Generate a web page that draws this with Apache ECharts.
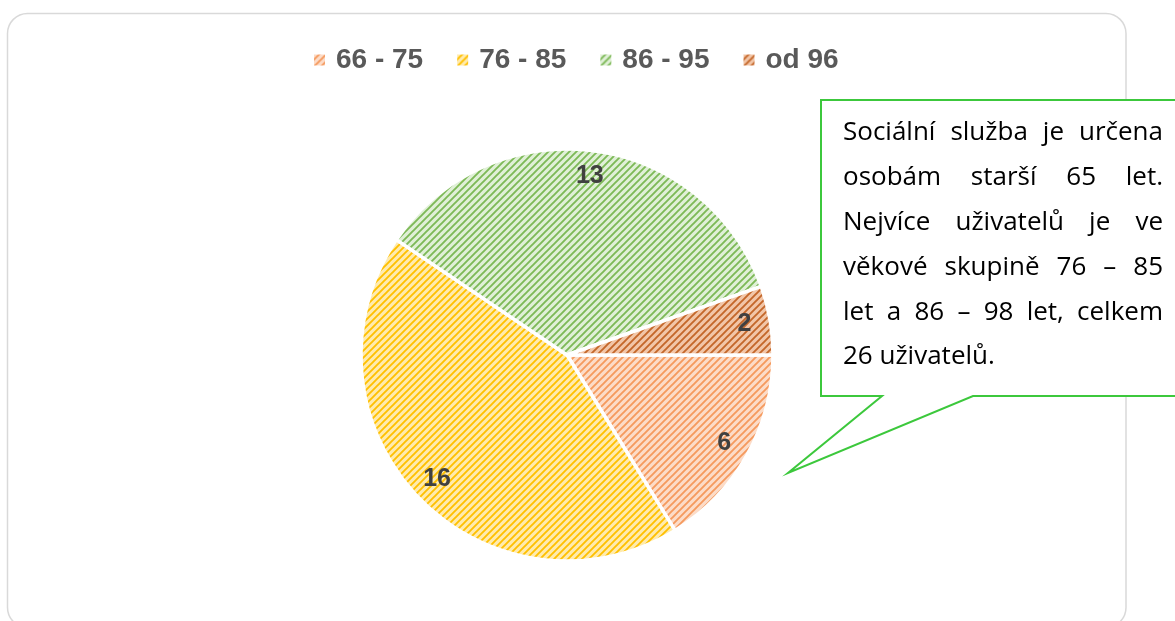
<!DOCTYPE html>
<html><head><meta charset="utf-8">
<script src="https://cdn.jsdelivr.net/npm/echarts@6/dist/echarts.min.js"></script>
<style>html,body{margin:0;padding:0;background:#fff}#c{width:1175px;height:621px}</style>
</head><body><div id="c"></div>
<script>
const categories = ['66 - 75', '76 - 85', '86 - 95', 'od 96'];
const values = [6, 16, 13, 2];
const calloutLines = [
  'Sociální služba je určena',
  'osobám starší 65 let.',
  'Nejvíce uživatelů je ve',
  'věkové skupině 76 – 85',
  'let a 86 – 98 let, celkem',
  '26 uživatelů.'
];

function hatch(bg, fg) {
  const s = 7;
  const c = document.createElement('canvas');
  c.width = s; c.height = s;
  const g = c.getContext('2d');
  g.fillStyle = bg; g.fillRect(0, 0, s, s);
  g.strokeStyle = fg; g.lineWidth = 1.9;
  g.beginPath();
  g.moveTo(-1, s + 1); g.lineTo(s + 1, -1);
  g.moveTo(-1, 1); g.lineTo(1, -1);
  g.moveTo(s - 1, s + 1); g.lineTo(s + 1, s - 1);
  g.stroke();
  return { image: c, repeat: 'repeat' };
}
const fills = [
  hatch('#FCDCC8', '#F59A5E'),
  hatch('#FFEBAE', '#FFC000'),
  hatch('#E0F0D7', '#7DB957'),
  hatch('#F2C6A8', '#C4672A')
];

const chart = echarts.init(document.getElementById('c'), null, { renderer: 'canvas' });

const cx = 567, cy = 355, R = 206;

// Callout justified text
const font = '26px "Open Sans"';
const mctx = document.createElement('canvas').getContext('2d');
mctx.font = font;
const textLeft = 843, textRight = 1163, lineY0 = 133, lineH = 44.8;
const textEls = [];
calloutLines.forEach((line, i) => {
  const words = line.split(' ');
  const y = lineY0 + i * lineH;
  const last = i === calloutLines.length - 1;
  const widths = words.map(w => mctx.measureText(w).width);
  const total = widths.reduce((a, b) => a + b, 0);
  const gap = last ? mctx.measureText(' ').width : (textRight - textLeft - total) / (words.length - 1);
  let x = textLeft;
  words.forEach((w, j) => {
    textEls.push({
      type: 'text', z: 12, silent: true,
      style: { text: w, x: x, y: y, font: font, fill: '#000', textVerticalAlign: 'middle', textAlign: 'left' }
    });
    x += widths[j] + gap;
  });
});

const labelFont = { fontFamily: 'Liberation Sans', fontWeight: 'bold', fontSize: 25, color: '#404040' };

const option = {
  backgroundColor: '#fff',
  animation: false,
  legend: {
    data: categories,
    top: 41,
    left: 307,
    icon: 'rect',
    itemWidth: 13,
    itemHeight: 13,
    itemGap: 32,
    textStyle: { fontFamily: 'Liberation Sans', fontWeight: 'bold', fontSize: 28, color: '#595959', padding: [0, 0, 0, 5] }
  },
  series: [
    {
      type: 'pie',
      center: [cx, cy],
      radius: [0, R],
      startAngle: 0,
      clockwise: true,
      label: { show: false },
      labelLine: { show: false },
      emphasis: { disabled: true },
      itemStyle: { borderColor: '#fff', borderWidth: 3.5 },
      data: categories.map((n, i) => ({ name: n, value: values[i], itemStyle: { color: fills[i] } }))
    },
    {
      type: 'pie',
      center: [cx, cy],
      radius: [148, R],
      startAngle: 0,
      clockwise: true,
      silent: true,
      emphasis: { disabled: true },
      itemStyle: { color: 'rgba(0,0,0,0)', borderWidth: 0 },
      label: Object.assign({ show: true, position: 'inside', formatter: '{c}' }, labelFont),
      labelLine: { show: false },
      data: categories.map((n, i) => ({ name: n, value: values[i] }))
    }
  ],
  graphic: [
    {
      type: 'rect', z: -1, silent: true,
      shape: { x: 7.5, y: 13.5, width: 1118.5, height: 614, r: 20 },
      style: { fill: 'none', stroke: '#d9d9d9', lineWidth: 1.5 }
    },
    {
      type: 'polygon', z: 11, silent: true,
      shape: { points: [[821, 100], [1185, 100], [1185, 396], [973, 396], [788, 473], [882, 396], [821, 396]] },
      style: { fill: '#fff', stroke: '#3CC83C', lineWidth: 2 }
    }
  ].concat(textEls)
};
chart.setOption(option);
</script>
</body></html>
